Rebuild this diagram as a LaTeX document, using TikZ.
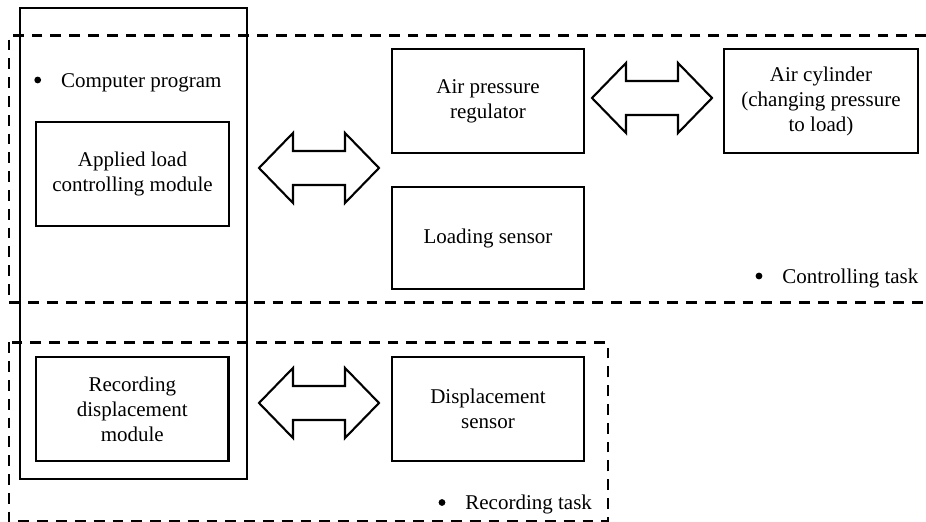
\documentclass[tikz,border=0pt]{standalone}
\usepackage{fontspec}
\setmainfont{Liberation Serif}
\begin{document}
\begin{tikzpicture}[x=0.5pt,y=-0.5pt,
  every node/.style={font=\fontsize{10.5}{12.5}\selectfont},
  blockbox/.style={draw, line width=1.05pt, rectangle, inner sep=0pt, align=center},
  taskframe/.style={draw, line width=1.05pt, dash pattern=on 5.4pt off 4pt},
  progframe/.style={draw, line width=1.05pt, rectangle, inner sep=0pt},
  blockarrow/.style={draw, line width=1.05pt, fill=white, line join=miter},
  bulletdot/.style={fill, circle, inner sep=0pt, minimum size=3.4pt},
  tasklabel/.style={anchor=base west, inner sep=0pt}
]
\useasboundingbox (0,0) rectangle (926,522);

% dashed task frames
\draw[taskframe] (926,35.5) -- (9,35.5) -- (9,302.5) -- (926,302.5);
\draw[taskframe] (9,342.5) rectangle (608,521);

% computer program frame
\node[progframe, minimum width=113.5pt, minimum height=235.5pt] (cp) at (133.5,243.5) {};

% blocks
\node[blockbox, minimum width=96.5pt, minimum height=52pt] (apm) at (132.5,174) {Applied load\\controlling module};
\node[blockbox, minimum width=96pt, minimum height=52pt] (apr) at (488,101) {Air pressure\\regulator};
\node[blockbox, minimum width=96pt, minimum height=51pt] (ls) at (488,238) {Loading sensor};
\node[blockbox, minimum width=97pt, minimum height=52pt] (ac) at (821,101) {Air cylinder\\(changing pressure\\to load)};
\node[blockbox, minimum width=96.25pt, minimum height=52pt] (rdm) at (132.25,409) {Recording\\displacement\\module};
\node[blockbox, minimum width=96pt, minimum height=52pt] (ds) at (488,409) {Displacement\\sensor};

% bullet labels
\node[bulletdot] (b1) at (37.7,80) {};
\node[tasklabel] (t1) at (60.7,87.5) {Computer program};
\node[bulletdot] (b2) at (759,276) {};
\node[tasklabel] (t2) at (782,283.5) {Controlling task};
\node[bulletdot] (b3) at (442,502.5) {};
\node[tasklabel] (t3) at (465,510) {Recording task};

% double block arrows
\coordinate (a1) at (319,168);
\coordinate (a2) at (652,98);
\coordinate (a3) at (319,403);
\foreach \c in {a1,a2,a3}{
  \draw[blockarrow] ([shift={(-60,0)}]\c) -- ([shift={(-26,-35)}]\c) -- ([shift={(-26,-17)}]\c)
    -- ([shift={(26,-17)}]\c) -- ([shift={(26,-35)}]\c) -- ([shift={(60,0)}]\c)
    -- ([shift={(26,35)}]\c) -- ([shift={(26,17)}]\c) -- ([shift={(-26,17)}]\c)
    -- ([shift={(-26,35)}]\c) -- cycle;
}
\end{tikzpicture}
\end{document}
